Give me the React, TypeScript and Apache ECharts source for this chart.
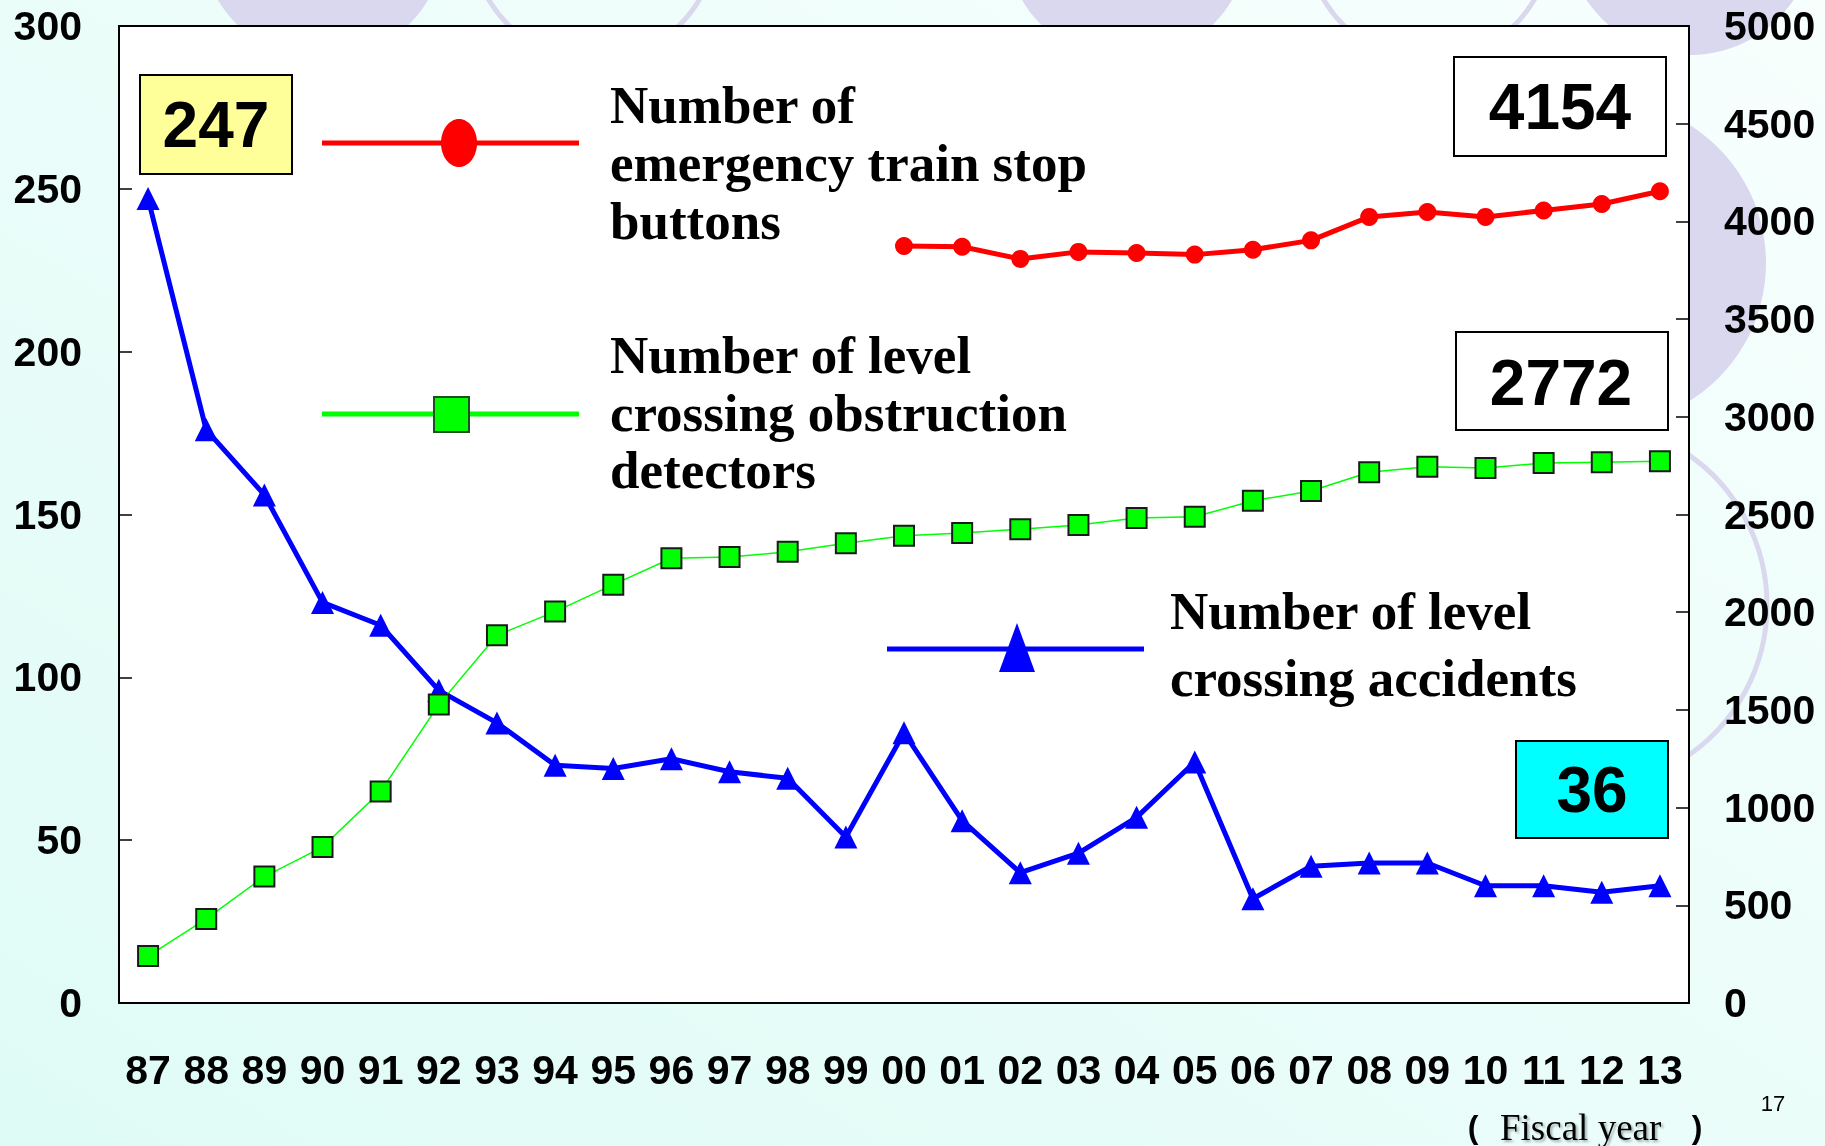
import React, { useEffect, useRef } from "react";
import * as echarts from "echarts";

const years = ["87","88","89","90","91","92","93","94","95","96","97","98","99","00","01","02","03","04","05","06","07","08","09","10","11","12","13"];
// Number of level crossing accidents (left axis)
const accidents = [247,176,156,123,116,96,86,73,72,75,71,69,51,83,56,40,46,57,74,32,42,43,43,36,36,34,36];
// Number of level crossing obstruction detectors (right axis)
const detectors = [240,430,647,798,1083,1527,1882,2003,2141,2276,2282,2309,2353,2391,2405,2425,2446,2482,2488,2570,2620,2716,2744,2738,2763,2768,2772];
// Number of emergency train stop buttons (right axis), from FY2000
const stopButtons = [null,null,null,null,null,null,null,null,null,null,null,null,null,3874,3870,3808,3844,3838,3830,3855,3903,4023,4048,4023,4056,4089,4154];

const redLabel = ["Number of", "emergency train stop", "buttons"];
const greenLabel = ["Number of level", "crossing obstruction", "detectors"];
const blueLabel = ["Number of level", "crossing accidents"];

const SERIF = '"Liberation Serif", "Times New Roman", serif';
const SANS = '"Liberation Sans", Arial, sans-serif';

function lastVal(a: (number | null)[]) {
  for (let i = a.length - 1; i >= 0; i--) if (a[i] != null) return a[i] as number;
  return 0;
}

export default function App() {
  const ref = useRef<HTMLDivElement>(null);
  useEffect(() => {
    if (!ref.current) return;
    const chart = echarts.init(ref.current, undefined, { renderer: "svg" });
    const lav = "#D9D8EE";
    const textLines = (lines: string[], x: number, y0: number, step: number) =>
      lines.map((t, i) => ({
        type: "text",
        z: 20,
        x,
        y: y0 + i * step,
        style: { text: t, fill: "#000", fontSize: 53, fontWeight: "bold", fontFamily: SERIF, align: "left", verticalAlign: "middle" },
      }));
    const box = (x: number, y: number, w: number, h: number, fill: string, txt: string, tx: number, ty: number) => [
      { type: "rect", z: 20, shape: { x, y, width: w, height: h }, style: { fill, stroke: "#000", lineWidth: 2 } },
      { type: "text", z: 21, x: tx, y: ty, style: { text: txt, fill: "#000", fontSize: 64, fontWeight: "bold", fontFamily: SANS, align: "center", verticalAlign: "middle" } },
    ];
    const axisLabelStyle = { color: "#000", fontSize: 41, fontWeight: "bold", fontFamily: SANS };
    chart.setOption({
      animation: false,
      grid: { left: 119, top: 26, right: 136, bottom: 143, show: true, backgroundColor: "#fff", borderColor: "#000", borderWidth: 2, z: 0 },
      xAxis: {
        type: "category",
        data: years,
        boundaryGap: true,
        axisLine: { lineStyle: { color: "#000", width: 2 } },
        axisTick: { inside: true, length: 13, lineStyle: { color: "#000", width: 1.5 } },
        axisLabel: { ...axisLabelStyle, margin: 46, interval: 0 },
        splitLine: { show: false },
      },
      yAxis: [
        {
          type: "value", min: 0, max: 300, interval: 50,
          axisLine: { show: true, lineStyle: { color: "#000", width: 2 } },
          axisTick: { show: true, inside: true, length: 13, lineStyle: { color: "#000", width: 1.5 } },
          axisLabel: { ...axisLabelStyle, margin: 37, formatter: (v: number) => String(v) },
          splitLine: { show: false },
        },
        {
          type: "value", min: 0, max: 5000, interval: 500, position: "right",
          axisLine: { show: true, lineStyle: { color: "#000", width: 2 } },
          axisTick: { show: true, inside: true, length: 13, lineStyle: { color: "#000", width: 1.5 } },
          axisLabel: { ...axisLabelStyle, margin: 35, formatter: (v: number) => String(v) },
          splitLine: { show: false },
        },
      ],
      series: [
        {
          name: "accidents", type: "line", yAxisIndex: 0, data: accidents,
          symbol: "triangle", symbolSize: 23,
          lineStyle: { color: "#0000FF", width: 5 },
          itemStyle: { color: "#0000FF" },
          emphasis: { disabled: true },
        },
        {
          name: "detectors", type: "line", yAxisIndex: 1, data: detectors,
          symbol: "rect", symbolSize: 20,
          lineStyle: { color: "#00FF00", width: 1.5 },
          itemStyle: { color: "#00FF00", borderColor: "#1a1a1a", borderWidth: 2 },
          emphasis: { disabled: true },
        },
        {
          name: "buttons", type: "line", yAxisIndex: 1, data: stopButtons,
          symbol: "circle", symbolSize: 18,
          lineStyle: { color: "#FF0000", width: 5 },
          itemStyle: { color: "#FF0000" },
          emphasis: { disabled: true },
        },
      ],
      graphic: [
        {
          type: "rect", z: -10, shape: { x: 0, y: 0, width: 1825, height: 1146 },
          style: { fill: new echarts.graphic.LinearGradient(0, 1, 1, 0, [{ offset: 0, color: "#DFFBF6" }, { offset: 1, color: "#F7FFFD" }]) },
        },
        { type: "circle", z: -9, shape: { cx: 323, cy: -62, r: 122 }, style: { fill: lav } },
        { type: "circle", z: -9, shape: { cx: 594, cy: -62, r: 122 }, style: { fill: "none", stroke: lav, lineWidth: 5 } },
        { type: "circle", z: -9, shape: { cx: 1127, cy: -62, r: 122 }, style: { fill: lav } },
        { type: "circle", z: -9, shape: { cx: 1429, cy: -62, r: 122 }, style: { fill: "none", stroke: lav, lineWidth: 5 } },
        { type: "circle", z: -9, shape: { cx: 1690, cy: -70, r: 125 }, style: { fill: lav } },
        { type: "circle", z: -9, shape: { cx: 1603, cy: 263, r: 163 }, style: { fill: lav } },
        { type: "circle", z: -9, shape: { cx: 1584, cy: 605, r: 183 }, style: { fill: "none", stroke: lav, lineWidth: 5 } },

        // red legend
        { type: "line", z: 20, shape: { x1: 322, y1: 143, x2: 579, y2: 143 }, style: { stroke: "#FF0000", lineWidth: 5 } },
        { type: "ellipse", z: 21, shape: { cx: 459, cy: 143, rx: 18, ry: 24 }, style: { fill: "#FF0000" } },
        ...textLines(redLabel, 610, 105, 58),
        // green legend
        { type: "line", z: 20, shape: { x1: 322, y1: 414, x2: 579, y2: 414 }, style: { stroke: "#00FF00", lineWidth: 5 } },
        { type: "rect", z: 21, shape: { x: 434, y: 397, width: 35, height: 35 }, style: { fill: "#00FF00", stroke: "#1f4f1f", lineWidth: 2 } },
        ...textLines(greenLabel, 610, 355, 57.5),
        // blue legend
        { type: "line", z: 20, shape: { x1: 887, y1: 649, x2: 1144, y2: 649 }, style: { stroke: "#0000FF", lineWidth: 5 } },
        { type: "polygon", z: 21, shape: { points: [[1017, 623], [999, 672], [1035, 672]] }, style: { fill: "#0000FF" } },
        ...textLines(blueLabel, 1170, 611, 67),

        // value boxes
        ...box(140, 75, 152, 99, "#FFFF99", String(accidents[0]), 216, 125),
        ...box(1454, 57, 212, 99, "#FFFFFF", String(lastVal(stopButtons)), 1560, 107),
        ...box(1456, 332, 212, 98, "#FFFFFF", String(lastVal(detectors)), 1561, 383),
        ...box(1516, 741, 152, 97, "#00FFFF", String(lastVal(accidents)), 1592, 790),

        // fiscal year note
        { type: "text", z: 20, x: 1473, y: 1127, style: { text: "(", fill: "#000", fontSize: 32, fontWeight: "bold", fontFamily: SANS, align: "center", verticalAlign: "middle" } },
        {
          type: "text", z: 20, x: 1500, y: 1127,
          style: { text: "Fiscal year", fill: "#000", fontSize: 37, fontFamily: SERIF, align: "left", verticalAlign: "middle", textShadowColor: "rgba(0,0,0,0.3)", textShadowOffsetX: 2, textShadowOffsetY: 2, textShadowBlur: 2 },
        },
        { type: "text", z: 20, x: 1697, y: 1127, style: { text: ")", fill: "#000", fontSize: 32, fontWeight: "bold", fontFamily: SANS, align: "center", verticalAlign: "middle" } },
        { type: "text", z: 20, x: 1773, y: 1103, style: { text: "17", fill: "#000", fontSize: 22, fontFamily: SANS, align: "center", verticalAlign: "middle" } },
      ],
    });
    return () => chart.dispose();
  }, []);
  return (
    <div
      ref={ref}
      style={{ position: "fixed", left: 0, top: 0, width: 1825, height: 1146 }}
    />
  );
}
